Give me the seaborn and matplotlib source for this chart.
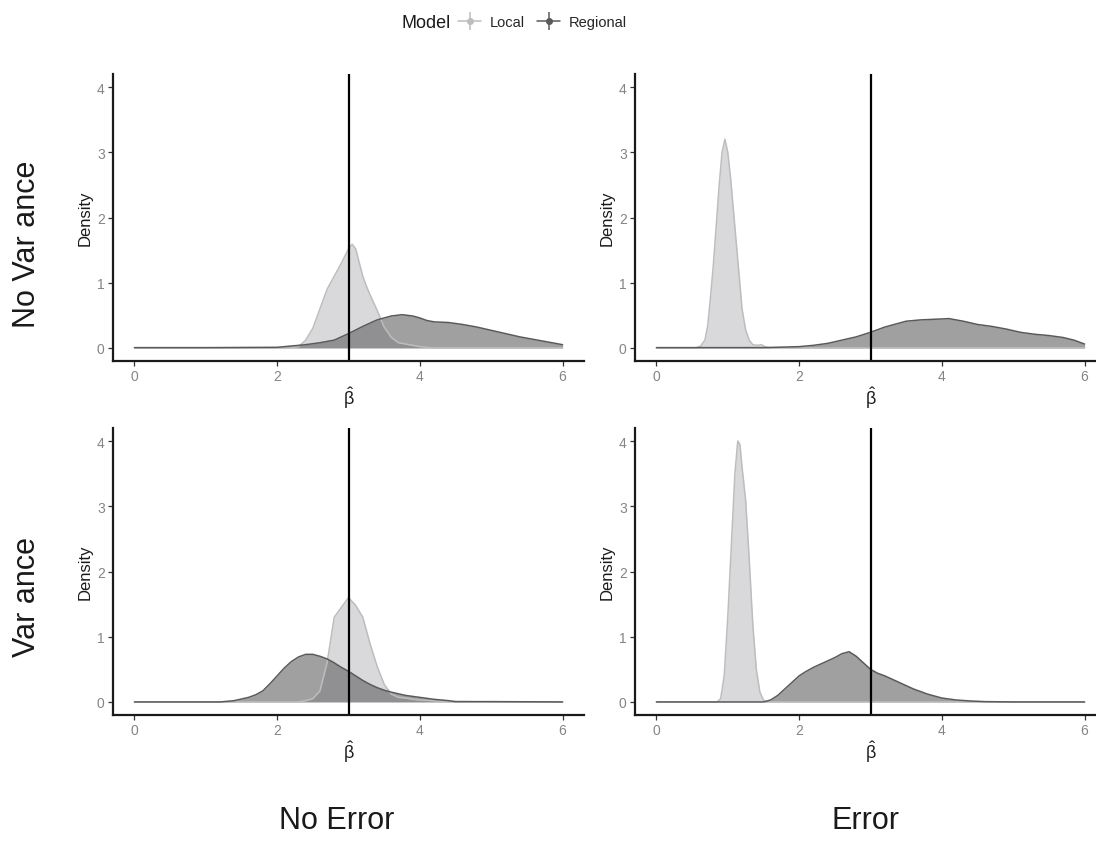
import matplotlib
matplotlib.use("Agg")
import matplotlib.pyplot as plt
from matplotlib.lines import Line2D
import pandas as pd
import seaborn as sns

# density curves (beta-hat, density)
nvne_local_x = [0, 2.2, 2.3, 2.4, 2.5, 2.6, 2.7, 2.8, 2.9, 3.0, 3.05, 3.1, 3.2, 3.25, 3.3, 3.4, 3.5, 3.6, 3.7, 3.8, 3.9, 4.0, 4.2, 6]
nvne_local_y = [0, 0, 0.02, 0.12, 0.3, 0.6, 0.9, 1.1, 1.3, 1.52, 1.59, 1.52, 1.1, 0.95, 0.82, 0.58, 0.32, 0.16, 0.08, 0.06, 0.04, 0.02, 0, 0]
nvne_regional_x = [0, 1.0, 2.0, 2.2, 2.4, 2.6, 2.8, 3.0, 3.2, 3.4, 3.6, 3.75, 3.9, 4.0, 4.1, 4.2, 4.4, 4.6, 4.8, 5.0, 5.2, 5.4, 5.6, 5.8, 6.0]
nvne_regional_y = [0.005, 0.005, 0.01, 0.03, 0.05, 0.08, 0.12, 0.22, 0.33, 0.43, 0.49, 0.51, 0.49, 0.46, 0.42, 0.40, 0.39, 0.36, 0.32, 0.27, 0.22, 0.17, 0.13, 0.09, 0.05]

nve_local_x = [0, 0.55, 0.62, 0.68, 0.72, 0.76, 0.8, 0.84, 0.88, 0.92, 0.96, 1.0, 1.04, 1.08, 1.12, 1.16, 1.2, 1.25, 1.3, 1.35, 1.42, 1.47, 1.52, 1.6, 6]
nve_local_y = [0, 0, 0.03, 0.12, 0.35, 0.8, 1.3, 1.9, 2.5, 3.0, 3.2, 3.0, 2.6, 2.1, 1.6, 1.1, 0.6, 0.28, 0.12, 0.05, 0.04, 0.05, 0.02, 0, 0]
nve_regional_x = [0, 1.5, 2.0, 2.2, 2.4, 2.6, 2.8, 3.0, 3.2, 3.4, 3.5, 3.7, 3.9, 4.1, 4.3, 4.5, 4.7, 4.9, 5.1, 5.3, 5.5, 5.7, 5.85, 6.0]
nve_regional_y = [0.005, 0.005, 0.02, 0.04, 0.07, 0.12, 0.17, 0.24, 0.32, 0.38, 0.41, 0.43, 0.44, 0.45, 0.41, 0.36, 0.33, 0.29, 0.24, 0.21, 0.19, 0.16, 0.12, 0.06]

vne_local_x = [0, 2.3, 2.4, 2.5, 2.6, 2.7, 2.8, 2.9, 3.0, 3.1, 3.2, 3.3, 3.4, 3.5, 3.6, 3.7, 3.8, 3.9, 4.0, 4.3, 5.0, 6]
vne_local_y = [0, 0, 0.02, 0.05, 0.17, 0.6, 1.3, 1.45, 1.6, 1.48, 1.3, 0.9, 0.55, 0.27, 0.12, 0.07, 0.06, 0.04, 0.03, 0.01, 0, 0]
vne_regional_x = [0, 1.2, 1.4, 1.6, 1.7, 1.8, 1.9, 2.0, 2.1, 2.2, 2.3, 2.4, 2.5, 2.6, 2.7, 2.8, 2.9, 3.0, 3.1, 3.2, 3.3, 3.4, 3.5, 3.6, 3.8, 4.0, 4.2, 4.4, 4.5, 5.0, 6]
vne_regional_y = [0, 0, 0.02, 0.07, 0.11, 0.17, 0.28, 0.40, 0.52, 0.62, 0.69, 0.73, 0.73, 0.70, 0.66, 0.60, 0.53, 0.47, 0.40, 0.33, 0.27, 0.22, 0.18, 0.15, 0.10, 0.07, 0.04, 0.02, 0.005, 0.005, 0]

ve_local_x = [0, 0.85, 0.9, 0.95, 1.0, 1.05, 1.1, 1.14, 1.17, 1.2, 1.25, 1.3, 1.35, 1.4, 1.45, 1.5, 1.55, 6]
ve_local_y = [0, 0, 0.05, 0.4, 1.3, 2.4, 3.5, 4.0, 3.95, 3.6, 3.1, 2.2, 1.2, 0.5, 0.15, 0.03, 0, 0]
ve_regional_x = [0, 1.5, 1.6, 1.7, 1.8, 1.9, 2.0, 2.1, 2.2, 2.3, 2.4, 2.5, 2.6, 2.7, 2.8, 2.9, 3.0, 3.1, 3.2, 3.3, 3.4, 3.5, 3.6, 3.7, 3.8, 3.9, 4.0, 4.2, 4.4, 4.6, 5.0, 6]
ve_regional_y = [0, 0, 0.03, 0.1, 0.2, 0.3, 0.4, 0.47, 0.53, 0.58, 0.63, 0.68, 0.74, 0.77, 0.70, 0.60, 0.50, 0.44, 0.40, 0.35, 0.30, 0.25, 0.20, 0.16, 0.12, 0.09, 0.06, 0.03, 0.015, 0.005, 0, 0]

true_beta = 3
row_labels = ["No Var ance", "Var ance"]
col_labels = ["No Error", "Error"]
models = ["Local", "Regional"]

panels = [
    [(nvne_local_x, nvne_local_y, nvne_regional_x, nvne_regional_y),
     (nve_local_x, nve_local_y, nve_regional_x, nve_regional_y)],
    [(vne_local_x, vne_local_y, vne_regional_x, vne_regional_y),
     (ve_local_x, ve_local_y, ve_regional_x, ve_regional_y)],
]

line_colors = {"Local": "#bdbdbd", "Regional": "#5a5a5a"}
fill_colors = {"Local": "#c6c6c8", "Regional": "#5c5c5e"}
FONT = ["Liberation Sans", "DejaVu Sans"]

sns.set_theme(style="ticks")
plt.rcParams["font.family"] = FONT
plt.rcParams["mathtext.fontset"] = "custom"
plt.rcParams["mathtext.rm"] = "Liberation Sans"
plt.rcParams["mathtext.it"] = "Liberation Sans"

W, H = 1096, 854
fig = plt.figure(figsize=(W / 100, H / 100), dpi=100)

lefts = [113, 635]
tops = [75, 429]
pw, ph = 471, 287

for r in range(2):
    for c in range(2):
        lx, ly, rx, ry = panels[r][c]
        ax = fig.add_axes([lefts[c] / W, 1 - (tops[r] + ph) / H, pw / W, ph / H])
        df = pd.concat([
            pd.DataFrame({"beta": lx, "density": ly, "model": "Local"}),
            pd.DataFrame({"beta": rx, "density": ry, "model": "Regional"}),
        ])
        for m in models:
            sub = df[df["model"] == m]
            ax.fill_between(sub["beta"], sub["density"], color=fill_colors[m],
                            alpha=0.65 if m == "Local" else 0.58, linewidth=0)
        sns.lineplot(data=df, x="beta", y="density", hue="model", palette=line_colors,
                     linewidth=1.1, legend=False, sort=False, ax=ax)
        ax.axvline(true_beta, color="black", linewidth=1.6)
        ax.set_xlim(-0.3, 6.3)
        ax.set_ylim(-0.2, 4.2)
        ax.set_xticks([0, 2, 4, 6])
        ax.set_yticks([0, 1, 2, 3, 4])
        ax.tick_params(length=3.5, width=0.9, colors="#333333", labelcolor="#858585",
                       labelsize=10, pad=2.5)
        for s in ["left", "bottom"]:
            ax.spines[s].set_linewidth(1.6)
            ax.spines[s].set_color("#1a1a1a")
        sns.despine(ax=ax)
        ax.set_ylabel("Density", fontsize=12, color="#1a1a1a", labelpad=3)
        ax.set_xlabel(r"$\hat{\mathrm{\beta}}$", fontsize=13, color="#1a1a1a", labelpad=1)

# row and column strip labels
fig.text(27 / W, 1 - 244 / H, row_labels[0], rotation=90, fontsize=22, ha="center", va="center", color="#1a1a1a")
fig.text(27 / W, 1 - 597 / H, row_labels[1], rotation=90, fontsize=22, ha="center", va="center", color="#1a1a1a")
fig.text(337 / W, 1 - 821 / H, col_labels[0], fontsize=22, ha="center", va="center", color="#1a1a1a")
fig.text(866 / W, 1 - 821 / H, col_labels[1], fontsize=22, ha="center", va="center", color="#1a1a1a")

# legend at top
fig.text(426 / W, 1 - 23 / H, "Model", fontsize=13, ha="center", va="center", color="#1a1a1a")
handles = []
for m in models:
    handles.append((
        Line2D([], [], color=line_colors[m], linewidth=1.1, marker="|", markersize=13, markeredgewidth=1.1),
        Line2D([], [], color=line_colors[m], linestyle="", marker="o", markersize=4),
    ))
fig.legend(handles, models, loc="center left", bbox_to_anchor=(458 / W, 1 - 23 / H), ncol=2,
           frameon=False, fontsize=10.5, handlelength=1.6, handletextpad=0.6, columnspacing=0.8,
           borderpad=0, borderaxespad=0)

fig.savefig("out.png", dpi=100)
